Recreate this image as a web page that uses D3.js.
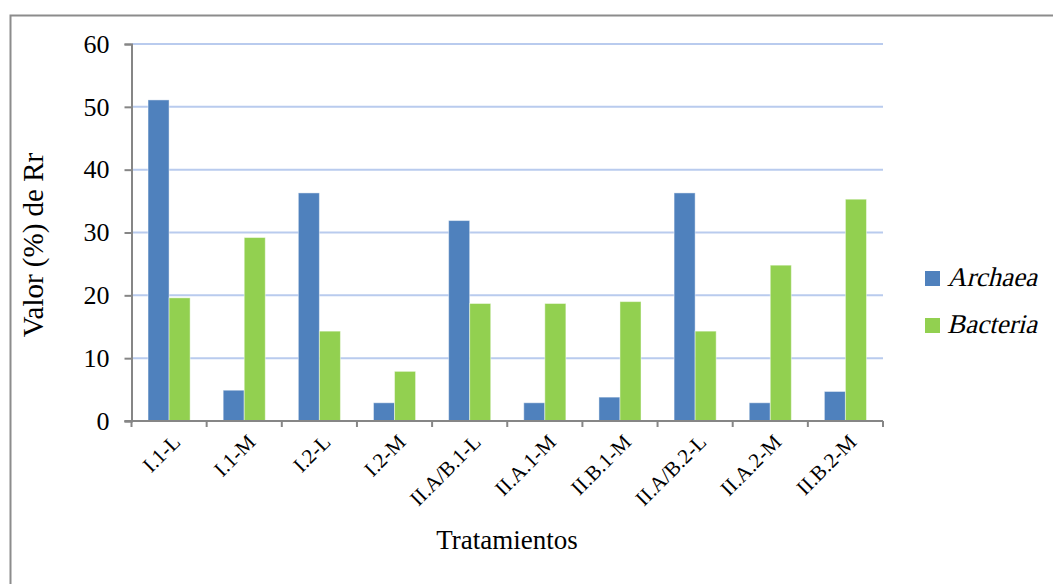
<!DOCTYPE html>
<html>
<head>
<meta charset="utf-8">
<script src="https://cdn.jsdelivr.net/npm/d3@7/dist/d3.min.js"></script>
<style>
  html, body { margin: 0; padding: 0; background: #fff; }
  svg text { font-family: "Liberation Serif", "Times New Roman", serif !important; fill: #000; }
</style>
</head>
<body>
<svg id="chart" width="1053" height="584"></svg>
<script>
// Relative abundance (%) per treatment
const categories = ["I.1-L", "I.1-M", "I.2-L", "I.2-M", "II.A/B.1-L", "II.A.1-M", "II.B.1-M", "II.A/B.2-L", "II.A.2-M", "II.B.2-M"];
const seriesNames = ["Archaea", "Bacteria"];
const archaea = [51.1, 4.9, 36.3, 2.9, 31.9, 2.9, 3.8, 36.3, 2.9, 4.7];
const bacteria = [19.6, 29.2, 14.3, 7.9, 18.7, 18.7, 19.0, 14.3, 24.8, 35.3];
const yTicks = [0, 10, 20, 30, 40, 50, 60];

const colors = { Archaea: "#4f81bd", Bacteria: "#92d050" };
const rows = categories.map((c, i) => ({ cat: c, Archaea: archaea[i], Bacteria: bacteria[i] }));
const serif = "'Liberation Serif', 'Times New Roman', serif";

const svg = d3.select("#chart");
const plotLeft = 131.5, plotRight = 883, plotTop = 44, plotBottom = 421;

// outer chart-area frame
svg.append("rect")
  .attr("x", 10.5).attr("y", 15.5).attr("width", 1100).attr("height", 700)
  .attr("fill", "none").attr("stroke", "#8c8c8c").attr("stroke-width", 2);

const x = d3.scaleBand().domain(categories).range([plotLeft, plotRight]).paddingInner(0).paddingOuter(0);
const inner = d3.scaleBand().domain(seriesNames).range([x.bandwidth() * 0.22, x.bandwidth() * 0.78]);
const y = d3.scaleLinear().domain([0, 60]).range([plotBottom, plotTop]);

// horizontal gridlines
svg.append("g").selectAll("line").data(yTicks.filter(t => t > 0)).join("line")
  .attr("x1", plotLeft).attr("x2", plotRight)
  .attr("y1", d => y(d)).attr("y2", d => y(d))
  .attr("stroke", "#b9cbee").attr("stroke-width", 2);

// bars
const groups = svg.append("g").selectAll("g").data(rows).join("g")
  .attr("transform", d => `translate(${x(d.cat)},0)`);
groups.selectAll("rect").data(d => seriesNames.map(k => ({ key: k, value: d[k] }))).join("rect")
  .attr("x", d => inner(d.key))
  .attr("width", inner.bandwidth())
  .attr("y", d => y(d.value))
  .attr("height", d => y(0) - y(d.value))
  .attr("fill", d => colors[d.key])
  .attr("stroke", "#ffffff").attr("stroke-opacity", 0.45).attr("stroke-width", 1);

// y axis
const yAxis = svg.append("g").attr("transform", `translate(${plotLeft},0)`)
  .call(d3.axisLeft(y).tickValues(yTicks).tickSize(7).tickPadding(15));
yAxis.attr("font-family", serif);
yAxis.select(".domain").attr("stroke", "#868686").attr("stroke-width", 2);
yAxis.selectAll(".tick line").attr("stroke", "#868686").attr("stroke-width", 2);
yAxis.selectAll(".tick text").attr("font-size", 26).style("font-family", serif);

// x axis with ticks at band boundaries
const xAxis = svg.append("g").attr("transform", `translate(0,${plotBottom})`);
xAxis.append("line").attr("x1", plotLeft - 7).attr("x2", plotRight).attr("y1", 0).attr("y2", 0)
  .attr("stroke", "#868686").attr("stroke-width", 2);
const boundaries = categories.map(c => x(c)).concat([plotRight]);
xAxis.selectAll("line.tk").data(boundaries).join("line").attr("class", "tk")
  .attr("x1", d => d).attr("x2", d => d).attr("y1", 0).attr("y2", 6)
  .attr("stroke", "#868686").attr("stroke-width", 2);
xAxis.selectAll("text").data(categories).join("text")
  .attr("transform", d => `translate(${x(d) + x.bandwidth() / 2 + 2},${12}) rotate(-45)`)
  .attr("text-anchor", "end")
  .attr("dy", "0.7em")
  .attr("font-size", 21)
  .style("font-family", serif)
  .text(d => d);

// axis titles
svg.append("text").attr("x", 507).attr("y", 549).attr("text-anchor", "middle")
  .attr("font-size", 27).style("font-family", serif).text("Tratamientos");
svg.append("text").attr("transform", "translate(43,245) rotate(-90)")
  .attr("text-anchor", "middle").attr("font-size", 29).style("font-family", serif)
  .text("Valor (%) de Rr");

// legend (series names slanted as in italic taxon names)
const legend = svg.append("g").selectAll("g").data(seriesNames).join("g")
  .attr("transform", (d, i) => `translate(925,${271 + i * 47})`);
legend.append("rect").attr("width", 15).attr("height", 15).attr("fill", d => colors[d]);
legend.append("text")
  .attr("transform", "translate(22,15) skewX(-14)")
  .attr("font-size", 27)
  .style("font-family", serif).text(d => d);
</script>
</body>
</html>
